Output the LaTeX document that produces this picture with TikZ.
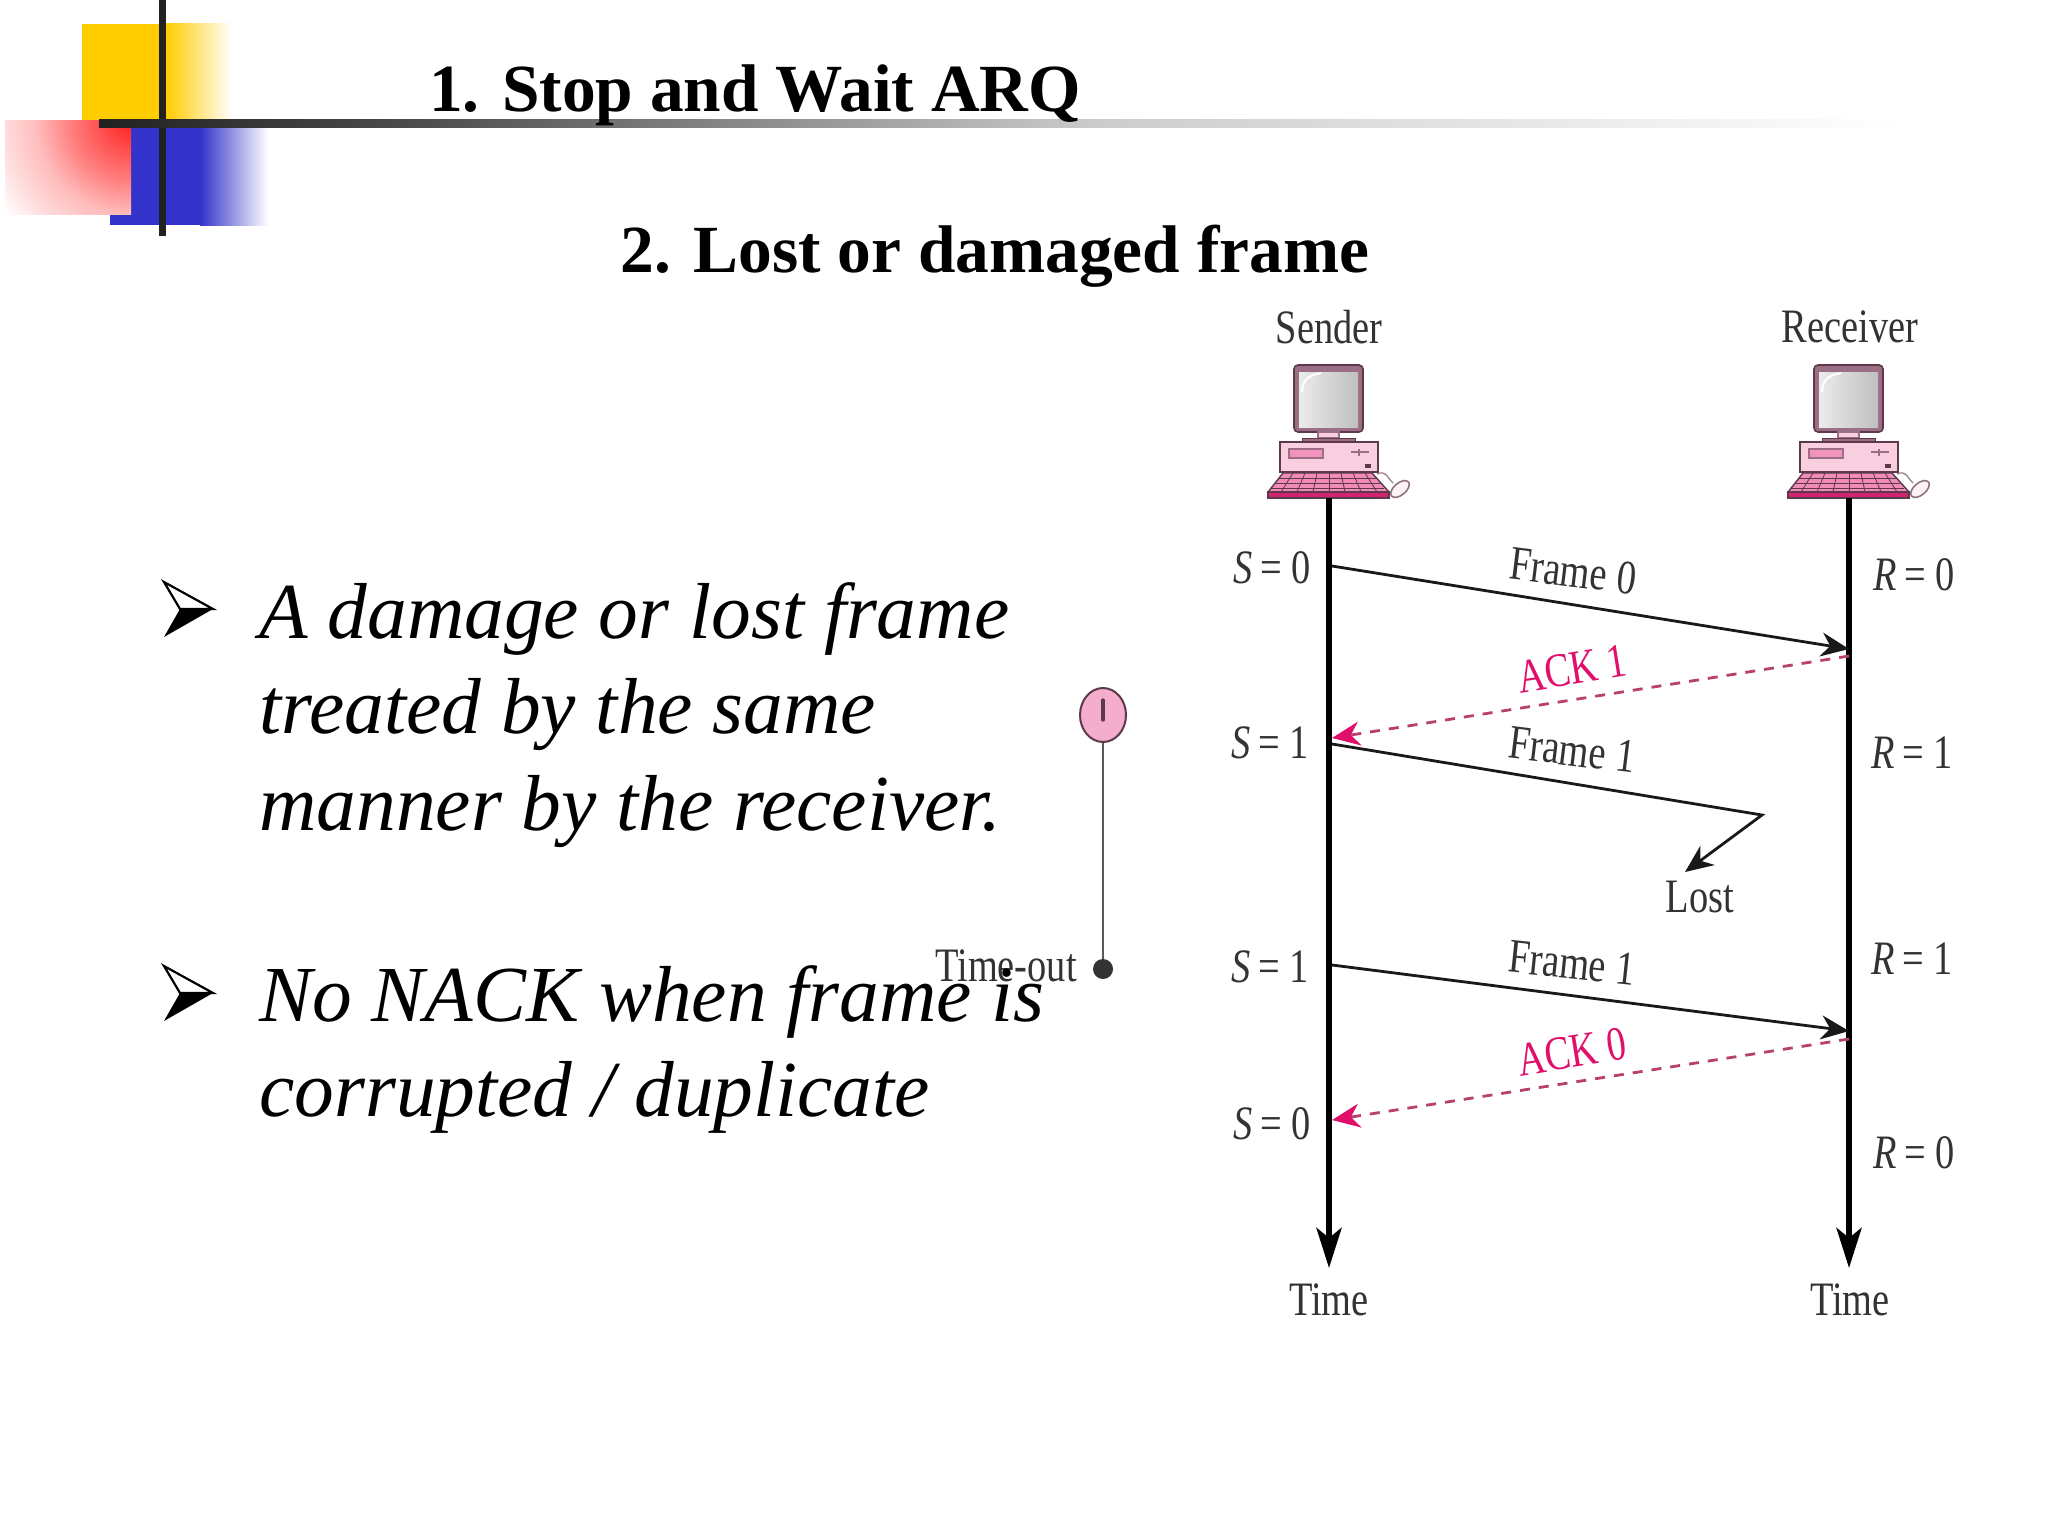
\documentclass[tikz,border=0pt]{standalone}
\usepackage{fontspec}
\setmainfont{Liberation Serif}
\newfontfamily\labfont[FakeStretch=0.8]{Liberation Serif}
\newcommand{\narrowed}[1]{\scalebox{0.8}[1]{#1}}
\usetikzlibrary{arrows.meta,shapes.geometric}
\definecolor{ackpink}{HTML}{E0106A}
\definecolor{dashpink}{HTML}{B8406E}
\definecolor{pcpink}{HTML}{F9CFE0}
\definecolor{pcdark}{HTML}{5C3A4A}
\definecolor{pcmid}{HTML}{9C6E86}
\definecolor{barblack}{HTML}{222222}
\definecolor{labgray}{HTML}{333333}
\definecolor{sqyellow}{RGB}{255,204,0}
\definecolor{sqblue}{RGB}{51,51,204}
\pgfdeclareradialshading{redfade}{\pgfpoint{0bp}{0bp}}{%
  color(0bp)=(red!88!white);
  color(9bp)=(red!50!white);
  color(14bp)=(red!26!white);
  color(18.5bp)=(red!14!white);
  color(23bp)=(white);
  color(50bp)=(white)}
\tikzset{
  titletext/.style={anchor=base,inner sep=0,font=\fontsize{33.7}{38}\selectfont\bfseries},
  bodytext/.style={anchor=base west,inner sep=0,font=\fontsize{39.7}{48}\selectfont\itshape},
  lab/.style={inner sep=0,text=labgray,font=\labfont\fontsize{24}{28}\selectfont},
  rotlab/.style={inner sep=0,text=labgray,font=\fontsize{24}{28}\selectfont},
  acklab/.style={inner sep=0,text=ackpink,font=\fontsize{24}{28}\selectfont},
  timeline/.style={line width=3pt,black,-{Stealth[length=20pt,width=12.5pt,inset=5pt]}},
  framearrow/.style={line width=1.4pt,black!90,-{Stealth[length=14pt,width=12pt,inset=4.5pt]}},
  ackarrow/.style={line width=1.4pt,dashpink,dash pattern=on 5pt off 4.5pt,-{Stealth[length=14pt,width=12pt,inset=4.5pt,ackpink]}},
}
% bullet arrowhead: centre of its tip-notch line at y = #1
\newcommand{\bulletmark}[1]{%
\begin{scope}[shift={(0,#1)}]
  \fill[black] (164,28) -- (180,0) -- (213,0) -- cycle;
  \draw[black,line width=1.1pt,line join=miter] (180,0) -- (164,-27) -- (213,0) -- cycle;
\end{scope}}
\newcommand{\pcart}[1]{%
\begin{scope}[shift={(#1,0)}]
  % monitor
  \fill[pcmid,draw=pcdark,line width=.8pt,rounded corners=2pt] (-35,365) rectangle (34,432);
  \shade[left color=white!92!black,right color=black!25!white] (-30,372) rectangle (29,427);
  \draw[white,line width=1pt] (-27,392) .. controls (-27,380) and (-20,375) .. (-8,373);
  % stand
  \fill[pcpink,draw=pcmid,line width=.6pt] (-11,432) rectangle (10,438);
  \fill[pcmid,draw=pcdark,line width=.5pt] (-27,438) rectangle (26,442);
  % case
  \fill[pcpink,draw=pcdark,line width=.8pt] (-49,442) rectangle (49,472);
  \fill[ackpink!45!white,draw=pcmid,line width=.6pt] (-40,449) rectangle (-6,458);
  \draw[pcmid,line width=1.2pt] (22,452) -- (40,452);
  \draw[pcmid,line width=1pt] (30,449) -- (30,456);
  \fill[pcdark] (36,464) rectangle (42,468);
  % keyboard
  \fill[ackpink!35!pcpink,draw=pcdark,line width=.7pt] (-46,473) -- (43,473) -- (60,492) -- (-61,492) -- cycle;
  \foreach \k in {-3,-2,-1,0,1,2,3} {\draw[pcdark,line width=.4pt] ({\k*12},473) -- ({\k*16},492);}
  \foreach \r/\a/\b in {478/-50/47,483/-54/51,488/-58/55} {\draw[pcdark,line width=.4pt] (\a,\r) -- (\b,\r);}
  \fill[ackpink!80!pcmid,draw=pcdark,line width=.6pt] (-61,492) rectangle (60,498);
  % mouse
  \draw[pcdark!60,line width=.7pt] (48,474) .. controls (58,470) and (58,478) .. (64,483);
  \draw[pcdark!70,fill=pcpink!30,line width=.8pt,rotate around={40:(71,489)}] (71,489) ellipse (11 and 6);
\end{scope}}
\begin{document}
\begin{tikzpicture}[x=0.5pt,y=-0.5pt]
\useasboundingbox (0,0) rectangle (2048,1536);
\fill[white] (0,0) rectangle (2048,1536);

% decoration: coloured squares
\fill[sqyellow] (82,24) rectangle (166,120);
\shade[left color=sqyellow,right color=white] (166,24) rectangle (232,120);
\fill[sqblue] (131,120) rectangle (200,225);
\fill[sqblue] (110,214) rectangle (131,225);
\shade[left color=sqblue,right color=white] (200,120) rectangle (268,225);
\begin{scope}
  \clip (5,120) rectangle (131,214);
  \shade[shading=redfade] (131,120) circle (170);
\end{scope}
\fill[barblack] (159,0) rectangle (166,236);
\shade[left color=barblack,right color=black!70!white] (99,119) rectangle (420,127);
\shade[left color=black!70!white,right color=black!20!white] (420,119) rectangle (1100,127);
\shade[left color=black!20!white,right color=white] (1100,119) rectangle (1900,127);

% titles
\node[titletext] (t1) at (755,112) {1. Stop and Wait ARQ};
\node[titletext] (t2) at (995,272) {2. Lost or damaged frame};

% timer
\node[lab] (timeout) at (1006,966) {Time-out};
\node[ellipse,draw=pcdark,line width=1pt,fill=pcpink!30!ackpink!45!white,minimum width=23pt,minimum height=27pt,inner sep=0] (timer) at (1103,715) {};
\draw[pcdark,line width=1.6pt,line cap=round] (1103,700) -- (1103,720);
\node[circle,fill=black!80,minimum size=10pt,inner sep=0] (tdot) at (1103,969) {};
\draw[black!65,line width=1.1pt] (timer) -- (tdot);

% body
\bulletmark{609}
\node[bodytext] (l1) at (259,638) {A damage or lost frame};
\node[bodytext] (l2) at (259,733) {treated by the same};
\node[bodytext] (l3) at (259,830) {manner by the receiver.};
\bulletmark{993}
\node[bodytext] (l4) at (259,1021) {No NACK when frame is};
\node[bodytext] (l5) at (259,1116) {corrupted / duplicate};

% computers
\pcart{1329}
\pcart{1849}
\node[lab] (sender) at (1329,327) {Sender};
\node[lab] (receiver) at (1850,327) {Receiver};

% timelines
\coordinate (st) at (1329,498);
\coordinate (se) at (1329,1268);
\coordinate (rt) at (1849,498);
\coordinate (re) at (1849,1268);
\draw[timeline] (st) -- (se);
\draw[timeline] (rt) -- (re);
\node[lab] (tl) at (1329,1300) {Time};
\node[lab] (tr) at (1850,1300) {Time};

% frames
\coordinate (f0a) at (1332,566);
\coordinate (f0b) at (1849,649);
\coordinate (a1a) at (1849,656);
\coordinate (a1b) at (1332,738);
\coordinate (f1a) at (1332,744);
\coordinate (f1c) at (1762,815);
\coordinate (f1d) at (1685,872);
\coordinate (f2a) at (1332,965);
\coordinate (f2b) at (1849,1031);
\coordinate (a0a) at (1849,1039);
\coordinate (a0b) at (1332,1120);
\draw[framearrow] (f0a) -- (f0b);
\draw[ackarrow] (a1a) -- (a1b);
\draw[framearrow,line join=miter] (f1a) -- (f1c) -- (f1d);
\draw[framearrow] (f2a) -- (f2b);
\draw[ackarrow] (a0a) -- (a0b);

\node[rotlab,rotate=-7] (n1) at (1573,571) {\narrowed{Frame 0}};
\node[acklab,rotate=9] (n2) at (1572,669) {\narrowed{ACK 1}};
\node[rotlab,rotate=-7] (n3) at (1572,750) {\narrowed{Frame 1}};
\node[rotlab,rotate=-6] (n4) at (1572,963) {\narrowed{Frame 1}};
\node[acklab,rotate=9] (n5) at (1572,1052) {\narrowed{ACK 0}};
\node[lab] (n6) at (1700,897) {Lost};

\node[lab] (s1) at (1272,568) {\textit{S}\,= 0};
\node[lab] (s2) at (1270,743) {\textit{S}\,= 1};
\node[lab] (s3) at (1270,967) {\textit{S}\,= 1};
\node[lab] (s4) at (1272,1124) {\textit{S}\,= 0};
\node[lab] (r1) at (1914,575) {\textit{R}\,= 0};
\node[lab] (r2) at (1912,753) {\textit{R}\,= 1};
\node[lab] (r3) at (1912,959) {\textit{R}\,= 1};
\node[lab] (r4) at (1914,1153) {\textit{R}\,= 0};
\end{tikzpicture}
\end{document}
